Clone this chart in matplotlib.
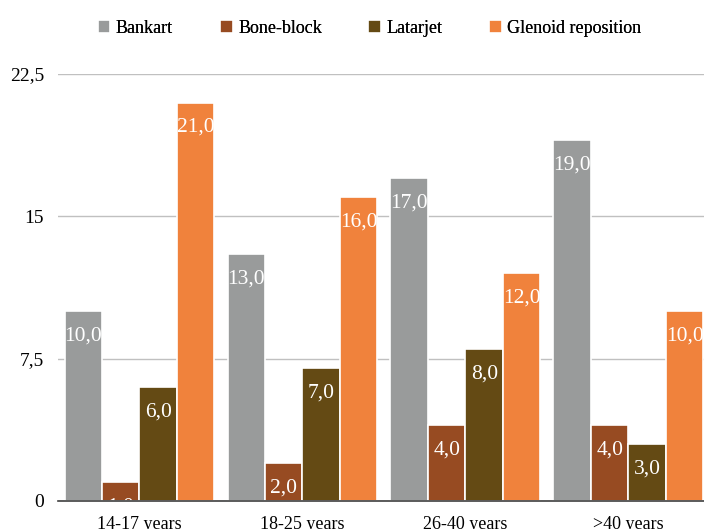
import numpy as np
import matplotlib.pyplot as plt

plt.rcParams['font.family'] = ['Liberation Serif', 'DejaVu Serif']

groups = ["14-17 years", "18-25 years", "26-40 years", ">40 years"]
series = ["Bankart", "Bone-block", "Latarjet", "Glenoid reposition"]
bankart = [10, 13, 17, 19]
bone_block = [1, 2, 4, 4]
latarjet = [6, 7, 8, 3]
glenoid = [21, 16, 12, 10]
yticks = [0, 7.5, 15, 22.5]
ytick_labels = ["0", "7,5", "15", "22,5"]

colors = ["#999b9b", "#974b22", "#644a14", "#f0823c"]
values = [bankart, bone_block, latarjet, glenoid]

fig = plt.figure(figsize=(7.04, 5.29), dpi=100)
ax = fig.add_axes([0.0824, 0.053, 0.926, 0.807])

x = np.arange(len(groups))
w = 0.23
handles = []
for i, (name, vals, c) in enumerate(zip(series, values, colors)):
    pos = x + (i - 1.5) * w
    bars = ax.bar(pos, vals, width=w, color=c, edgecolor="white", linewidth=1.2,
                  label=name, zorder=3)
    handles.append(bars)
    for b, v in zip(bars, vals):
        ax.annotate(f"{v},0", (b.get_x() + b.get_width() / 2, v),
                    xytext=(0, -18), textcoords="offset points",
                    ha="center", va="center", color="white", fontsize=15.5, zorder=4)

ax.set_xlim(-0.5, 3.5)
ax.set_ylim(0, 22.5)
ax.set_yticks(yticks)
ax.set_yticklabels(ytick_labels, fontsize=14)
ax.set_xticks(x)
ax.set_xticklabels(groups, fontsize=13)
ax.tick_params(length=0)
ax.tick_params(axis="y", pad=10)
ax.tick_params(axis="x", pad=11)
ax.grid(axis="y", color="#c0c0c0", linewidth=1, zorder=0)
for s in ["top", "right", "left"]:
    ax.spines[s].set_visible(False)
ax.spines["bottom"].set_color("#404040")
ax.spines["bottom"].set_linewidth(1.2)
ax.spines["bottom"].set_zorder(5)

# legend entries placed one by one, spacing is uneven in the original
leg_x = [0.139, 0.3125, 0.523, 0.695]
for h, name, lx in zip(handles, series, leg_x):
    leg = fig.legend(handles=[h], labels=[name], loc="center left",
                     bbox_to_anchor=(lx, 0.947), frameon=False, fontsize=13,
                     handlelength=0.7, handleheight=0.7, handletextpad=0.3,
                     borderpad=0, borderaxespad=0)
    fig.add_artist(leg)

fig.savefig("out.png", dpi=100)
